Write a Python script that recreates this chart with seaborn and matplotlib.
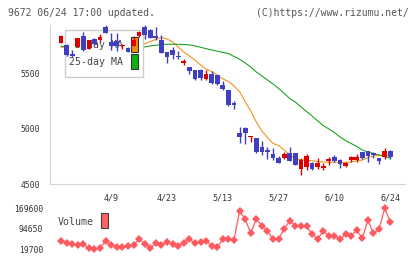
import numpy as np
import pandas as pd
import matplotlib
matplotlib.use("Agg")
import matplotlib.pyplot as plt
import seaborn as sns
from matplotlib.patches import Rectangle

# ---------------- data ----------------
dates = ["3/27", "3/28", "3/29", "4/1", "4/2", "4/3", "4/4", "4/5", "4/8", "4/9",
         "4/10", "4/11", "4/12", "4/15", "4/16", "4/17", "4/18", "4/19", "4/22", "4/23",
         "4/24", "4/25", "4/26", "4/30", "5/1", "5/2", "5/7", "5/8", "5/9", "5/13",
         "5/14", "5/15", "5/16", "5/17", "5/20", "5/21", "5/22", "5/23", "5/24", "5/27",
         "5/28", "5/29", "5/30", "5/31", "6/3", "6/4", "6/5", "6/6", "6/7", "6/10",
         "6/11", "6/12", "6/13", "6/14", "6/17", "6/18", "6/19", "6/20", "6/21", "6/24"]

opens = [5782, 5764, 5682, 5745, 5845, 5727, 5818, 5809, 5927, 5791,
         5800, 5750, 5736, 5755, 5845, 5927, 5900, 5845, 5809, 5700,
         5718, 5664, 5600, 5564, 5536, 5536, 5455, 5500, 5491, 5400,
         5355, 5232, 4964, 5009, 4923, 4918, 4836, 4809, 4773, 4736,
         4736, 4782, 4782, 4636, 4655, 4691, 4655, 4645, 4709, 4745,
         4718, 4664, 4718, 4718, 4791, 4800, 4782, 4736, 4745, 4800]
highs = [5855, 5773, 5718, 5827, 5882, 5809, 5827, 5864, 5945, 5873,
         5873, 5770, 5745, 5845, 5891, 5945, 5909, 5927, 5855, 5700,
         5745, 5709, 5636, 5564, 5536, 5545, 5536, 5527, 5491, 5436,
         5355, 5255, 5018, 5018, 4936, 4918, 4891, 4836, 4827, 4755,
         4791, 4836, 4782, 4736, 4773, 4700, 4736, 4691, 4745, 4764,
         4727, 4700, 4755, 4773, 4791, 4800, 4791, 4736, 4827, 4809]
lows = [5782, 5664, 5655, 5745, 5709, 5727, 5764, 5791, 5873, 5718,
        5709, 5730, 5700, 5755, 5836, 5818, 5827, 5809, 5691, 5600,
        5636, 5636, 5582, 5500, 5445, 5445, 5445, 5409, 5400, 5355,
        5209, 5182, 4873, 4864, 4882, 4782, 4764, 4727, 4718, 4691,
        4727, 4709, 4673, 4582, 4627, 4627, 4636, 4627, 4673, 4700,
        4645, 4655, 4700, 4700, 4727, 4700, 4736, 4682, 4727, 4727]
closes = [5845, 5673, 5664, 5827, 5718, 5809, 5773, 5836, 5873, 5755,
          5755, 5765, 5700, 5809, 5882, 5855, 5827, 5827, 5691, 5655,
          5673, 5650, 5618, 5527, 5455, 5464, 5500, 5418, 5409, 5364,
          5218, 5218, 4927, 4964, 4936, 4791, 4791, 4791, 4736, 4691,
          4773, 4709, 4673, 4718, 4755, 4636, 4691, 4664, 4727, 4709,
          4682, 4691, 4745, 4745, 4736, 4755, 4764, 4709, 4800, 4745]

ma5 = [5745, 5740, 5735, 5745, 5745, 5738, 5758, 5793, 5802, 5809,
       5798, 5797, 5770, 5757, 5782, 5773, 5795, 5814, 5832, 5818,
       5791, 5745, 5700, 5664, 5625, 5582, 5545, 5523, 5491, 5455,
       5432, 5391, 5341, 5248, 5164, 5064, 4982, 4923, 4868, 4850,
       4809, 4764, 4732, 4720, 4716, 4712, 4703, 4700, 4697, 4697,
       4697, 4697, 4700, 4709, 4718, 4741, 4755, 4759, 4764, 4764]
ma25 = [5750, 5752, 5755, 5755, 5755, 5755, 5757, 5757, 5758, 5758,
        5757, 5755, 5753, 5750, 5748, 5745, 5755, 5761, 5768, 5770,
        5770, 5770, 5768, 5764, 5755, 5743, 5730, 5718, 5707, 5695,
        5686, 5659, 5634, 5600, 5564, 5518, 5482, 5445, 5409, 5368,
        5323, 5277, 5245, 5200, 5159, 5118, 5073, 5032, 5000, 4968,
        4927, 4895, 4868, 4841, 4809, 4791, 4777, 4764, 4750, 4734]

volume = [50200, 42900, 38100, 34400, 37000, 22300, 19700, 22300, 50200, 34400,
          28200, 26000, 30700, 34400, 56500, 38100, 24500, 40700, 34400, 46600,
          38100, 31800, 42900, 56500, 40700, 46600, 50200, 31800, 26000, 55400,
          56500, 52800, 159500, 130100, 77500, 130100, 104300, 86000, 56500, 56500,
          93300, 123800, 104300, 105400, 104300, 73800, 56500, 86000, 68600, 68600,
          56500, 73800, 67500, 89600, 59100, 126400, 77500, 92200, 169600, 120200]

tick_dates = ["4/9", "4/23", "5/13", "5/27", "6/10", "6/24"]
price_ticks = [4500, 5000, 5500]
vol_ticks = [19700, 94650, 169600]

# ---------------- styling ----------------
sns.set_theme(style="white")
plt.rcParams["font.family"] = ["DejaVu Sans Mono", "DejaVu Sans"]

RED = "#dd0000"
BLUE = "#3f3fbf"
ORANGE = "#f08c10"
GREEN = "#10a010"
VOLC = "#ff5a5f"
AXC = "#d6d6d6"

W, H = 420, 259
fig = plt.figure(figsize=(W / 100, H / 100), dpi=100)
fig.patch.set_facecolor("white")

def frac_rect(x0, y0, x1, y1):
    return [x0 / W, 1 - y1 / H, (x1 - x0) / W, (y1 - y0) / H]

ax = fig.add_axes(frac_rect(50, 25, 405, 184))
axv = fig.add_axes(frac_rect(50, 200, 405, 255))

df = pd.DataFrame({"i": np.arange(len(dates)), "date": dates, "open": opens, "high": highs,
                   "low": lows, "close": closes, "ma5": ma5, "ma25": ma25, "volume": volume})

# MA lines (behind legend box)
sns.lineplot(data=df, x="i", y="ma5", ax=ax, color=ORANGE, linewidth=0.75, zorder=1)
sns.lineplot(data=df, x="i", y="ma25", ax=ax, color=GREEN, linewidth=0.75, zorder=1)

# legend box
ax.add_patch(Rectangle((15 / 355, (184 - 77) / 159), 78 / 355, 47 / 159, transform=ax.transAxes,
                       facecolor="white", edgecolor="#cccccc", lw=1, zorder=2))
ax.text(73 / 355, (184 - 45) / 159, "5-day MA", transform=ax.transAxes, ha="right", va="center",
        fontsize=7.1, color="#444444", zorder=3)
ax.text(73 / 355, (184 - 62) / 159, "25-day MA", transform=ax.transAxes, ha="right", va="center",
        fontsize=7.1, color="#444444", zorder=3)
ax.add_patch(Rectangle((81 / 355, (184 - 52) / 159), 7 / 355, 15 / 159, transform=ax.transAxes,
                       facecolor=ORANGE, edgecolor="#333333", lw=0.8, zorder=3))
ax.add_patch(Rectangle((81 / 355, (184 - 69) / 159), 7 / 355, 15 / 159, transform=ax.transAxes,
                       facecolor="#10b010", edgecolor="#333333", lw=0.8, zorder=3))

# candles
o = df["open"].to_numpy(); c = df["close"].to_numpy()
up = c >= o
cols = np.where(up, RED, BLUE)
ax.vlines(df["i"], df["low"], df["high"], colors=cols, lw=1.0, zorder=4)
body_lo = np.minimum(o, c)
body_h = np.maximum(np.abs(c - o), 10)
ax.bar(df["i"], body_h, bottom=body_lo, width=0.85, color=cols, linewidth=0, zorder=5)

x0 = (50 - 61) / 5.58
x1 = (405 - 61) / 5.58
ax.set_xlim(x0, x1)
ax.set_ylim(4500, 5945)

ax.set_yticks(price_ticks)
ax.set_yticklabels([str(v) for v in price_ticks])
ax.tick_params(axis="y", direction="inout", length=8 * 0.72, width=0.8, color=AXC,
               labelsize=5.8, labelcolor="#333333", pad=4.5)

label_pos = [dates.index(d) for d in tick_dates]
ax.set_xticks(label_pos)
ax.set_xticklabels(tick_dates)
ax.tick_params(axis="x", which="major", length=0, labelsize=6, labelcolor="#333333", pad=7)
ax.set_xticks(np.linspace(x0, x1, 12), minor=True)
ax.tick_params(axis="x", which="minor", direction="inout", length=8 * 0.72, width=0.8, color=AXC)
ax.set_xlabel("")
ax.set_ylabel("")
for s in ["top", "right"]:
    ax.spines[s].set_visible(False)
for s in ["left", "bottom"]:
    ax.spines[s].set_color(AXC)
    ax.spines[s].set_linewidth(0.8)
ax.set_facecolor("none")

# volume
sns.lineplot(data=df, x="i", y="volume", ax=axv, color=VOLC, linewidth=0.9, marker="D",
             markersize=4.2, markeredgewidth=0, markerfacecolor=VOLC)
axv.set_xlim(x0, x1)
axv.set_ylim(19700 - 6 * 3683, 169600 + 8.3 * 3683)
axv.set_yticks(vol_ticks)
axv.set_yticklabels([str(v) for v in vol_ticks])
axv.tick_params(axis="y", length=0, labelsize=5.8, labelcolor="#333333", pad=5)
axv.set_xticks([])
axv.set_xlabel("")
axv.set_ylabel("")
for s in axv.spines.values():
    s.set_visible(False)
axv.set_facecolor("none")
axv.text(8 / 355, 1 - 22 / 55, "Volume", transform=axv.transAxes, ha="left", va="center",
         fontsize=7.1, color="#444444")
axv.add_patch(Rectangle((51 / 355, 1 - 28 / 55), 7 / 355, 15 / 55, transform=axv.transAxes,
                        facecolor="#ff6060", edgecolor="#444444", lw=0.8))

# header texts
fig.text(8 / W, 1 - 12.5 / H, "9672 06/24 17:00 updated.", ha="left", va="center",
         fontsize=7.0, color="#555555")
fig.text(409 / W, 1 - 12.5 / H, "(C)https://www.rizumu.net/", ha="right", va="center",
         fontsize=7.0, color="#555555")

fig.savefig("out.png", dpi=100, facecolor="white")
